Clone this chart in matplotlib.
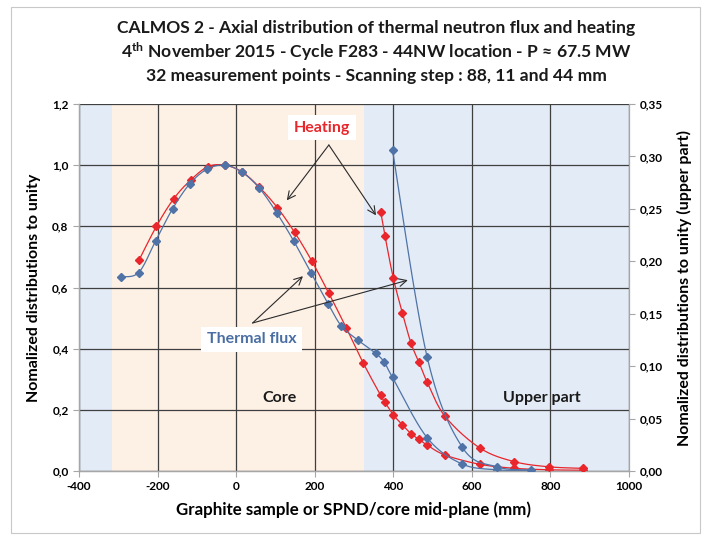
import numpy as np
import matplotlib
matplotlib.use("Agg")
import matplotlib.pyplot as plt
from matplotlib.patches import Rectangle
from matplotlib.ticker import FuncFormatter

plt.rcParams['font.family'] = ['Lato', 'DejaVu Sans']
plt.rcParams['mathtext.fontset'] = 'custom'
plt.rcParams['mathtext.rm'] = 'Lato'
plt.rcParams['mathtext.bf'] = 'Lato:bold'
plt.rcParams['mathtext.it'] = 'Lato:italic'

# ---------------- data ----------------
flux_x = [-293, -248, -205, -162, -118, -74, -29, 15, 59, 103, 147, 191, 235, 268,
          311, 355, 377, 398, 486, 575, 663, 750]
flux_y = [0.635, 0.649, 0.752, 0.857, 0.939, 0.987, 1.000, 0.977, 0.925, 0.845, 0.751,
          0.647, 0.545, 0.474, 0.427, 0.385, 0.356, 0.306, 0.109, 0.023, 0.004, 0.001]

heat_x = [-247, -203, -159, -116, -72, -29, 15, 59, 105, 149, 192, 236, 280, 324,
          368, 379, 400, 423, 445, 465, 486, 532, 620, 707, 796, 884]
heat_y = [0.690, 0.800, 0.890, 0.951, 0.995, 1.000, 0.978, 0.928, 0.861, 0.780, 0.688,
          0.581, 0.469, 0.352, 0.247, 0.224, 0.184, 0.151, 0.122, 0.104, 0.085, 0.052,
          0.022, 0.009, 0.004, 0.0025]

flux_upper_from = 398   # first point of flux plotted on the "upper part" axis
heat_upper_from = 368   # first point of heating plotted on the "upper part" axis

zones = [(-400, -315, 'upper'), (-315, 325, 'core'), (325, 1000, 'upper')]

title_lines = ["CALMOS 2 - Axial distribution of thermal neutron flux and heating",
               r"4$^{\mathbf{th}}$ November 2015 - Cycle F283 - 44NW location - P ≈ 67.5 MW",
               "32 measurement points - Scanning step : 88, 11 and 44 mm"]

x_ticks = [-400, -200, 0, 200, 400, 600, 800, 1000]
yl_ticks = [0.0, 0.2, 0.4, 0.6, 0.8, 1.0, 1.2]
yr_ticks = [0.00, 0.05, 0.10, 0.15, 0.20, 0.25, 0.30, 0.35]

# ---------------- style ----------------
RED = '#e8262b'
BLUE = '#4f73a6'
BLUE_TXT = '#4a6ea3'
ZONE_COL = {'upper': '#e3ebf6', 'core': '#fdf0e5'}
GRID = '#3f3f3f'
SPINE = '#a6a6a6'

W, H = 707, 535
fig = plt.figure(figsize=(W / 100, H / 100), dpi=100)
fig.patches.append(Rectangle((11 / W, 2 / H), 689 / W, 526 / H, transform=fig.transFigure,
                             fill=False, edgecolor='#c8c8c8', lw=0.8))

L, R, T, B = 79, 629, 104, 471
ax = fig.add_axes([L / W, 1 - B / H, (R - L) / W, (B - T) / H])
ax2 = ax.twinx()

ax.set_xlim(-400, 1000)
ax.set_ylim(0, 1.2)
ax2.set_ylim(0, 0.35)

for x0, x1, kind in zones:
    ax.axvspan(x0, x1, color=ZONE_COL[kind], zorder=0.1, lw=0)

ax.set_xticks(x_ticks)
ax.set_yticks(yl_ticks)
ax2.set_yticks(yr_ticks)
ax.grid(True, color=GRID, lw=0.9, zorder=0.5)
ax.set_axisbelow(True)

comma1 = FuncFormatter(lambda v, p: f"{v:.1f}".replace('.', ','))
comma2 = FuncFormatter(lambda v, p: f"{v:.2f}".replace('.', ','))
ax.yaxis.set_major_formatter(comma1)
ax2.yaxis.set_major_formatter(comma2)
ax.xaxis.set_major_formatter(FuncFormatter(lambda v, p: f"{v:.0f}"))

for a in (ax, ax2):
    for s in a.spines.values():
        s.set_color(SPINE)
        s.set_linewidth(0.9)
    a.spines['top'].set_visible(False)
    a.tick_params(colors=SPINE, length=4, width=0.8, labelsize=8.5, labelcolor='black')
ax.spines['right'].set_visible(False)
for lab in ax.get_xticklabels() + ax.get_yticklabels() + ax2.get_yticklabels():
    lab.set_fontweight('bold')
ax.tick_params(axis='x', pad=3)


def smooth(xs, ys, sx, sy, n=24):
    P = np.column_stack([np.asarray(xs, float) * sx, np.asarray(ys, float) * sy])
    out = [P[0]]
    t = np.linspace(0, 1, n)[1:, None]
    for i in range(len(P) - 1):
        p0 = P[i - 1] if i > 0 else P[i]
        p1, p2 = P[i], P[i + 1]
        p3 = P[i + 2] if i + 2 < len(P) else P[i + 1]
        c1 = p1 + (p2 - p0) / 6
        c2 = p2 - (p3 - p1) / 6
        Bz = (1 - t) ** 3 * p1 + 3 * (1 - t) ** 2 * t * c1 + 3 * (1 - t) * t ** 2 * c2 + t ** 3 * p2
        out.extend(Bz)
    out = np.array(out)
    return out[:, 0] / sx, out[:, 1] / sy


sx = (R - L) / 1400.0
syl = (B - T) / 1.2
syr = (B - T) / 0.35


def draw(a, xs, ys, sy, color, z):
    lx, ly = smooth(xs, ys, sx, sy)
    a.plot(lx, ly, color=color, lw=0.9, zorder=z)
    a.plot(xs, ys, ls='none', marker='D', ms=4.0, color=color, mec=color, zorder=z + 0.1)


# lower (full) series on left axis
draw(ax, heat_x, heat_y, syl, RED, 3)
draw(ax, flux_x, flux_y, syl, BLUE, 4)

# upper part series on right axis
hx = [x for x in heat_x if x >= heat_upper_from]
hy = [y for x, y in zip(heat_x, heat_y) if x >= heat_upper_from]
fx = [x for x in flux_x if x >= flux_upper_from]
fy = [y for x, y in zip(flux_x, flux_y) if x >= flux_upper_from]
draw(ax2, hx, hy, syr, RED, 3)
draw(ax2, fx, fy, syr, BLUE, 4)

# annotations (drawn on ax2 using left-axis data coordinates)
arrow = dict(arrowstyle='->', color='#2b2b2b', lw=0.8, shrinkA=0, shrinkB=0,
             mutation_scale=14)
for end in [(129, 0.885), (356, 0.836)]:
    ax2.annotate('', xy=end, xycoords=ax.transData, xytext=(236, 1.066),
                 textcoords=ax.transData, arrowprops=arrow, zorder=6)
for end in [(170, 0.637), (437, 0.624)]:
    ax2.annotate('', xy=end, xycoords=ax.transData, xytext=(42, 0.484),
                 textcoords=ax.transData, arrowprops=arrow, zorder=6)

box = dict(boxstyle='square,pad=0.35', fc='white', ec='none')
ax2.text(219, 1.122, 'Heating', transform=ax.transData, color=RED, fontsize=11.5,
         fontweight='bold', ha='center', va='center', bbox=box, zorder=7)
ax2.text(40, 0.431, 'Thermal flux', transform=ax.transData, color=BLUE_TXT, fontsize=11.5,
         fontweight='bold', ha='center', va='center', bbox=box, zorder=7)
ax2.text(110, 0.24, 'Core', transform=ax.transData, color='#1a1a1a', fontsize=11.5,
         fontweight='bold', ha='center', va='center', zorder=7)
ax2.text(778, 0.239, 'Upper part', transform=ax.transData, color='#1a1a1a', fontsize=11.5,
         fontweight='bold', ha='center', va='center', zorder=7)

# axis labels
ax.set_xlabel('Graphite sample or SPND/core mid-plane (mm)', fontsize=12.2,
              fontweight='bold', labelpad=7)
ax.set_ylabel('Nomalized distributions to unity', fontsize=11.5, fontweight='bold',
              labelpad=8)
ax2.set_ylabel('Nomalized distributions to unity (upper part)', fontsize=11.5,
               fontweight='bold', labelpad=10)

# title
for i, (line, yy) in enumerate(zip(title_lines, [28, 52, 76])):
    fig.text(376 / W, 1 - yy / H, line, ha='center', va='center', fontsize=12.6,
             fontweight='bold', color='#1a1a1a')

fig.savefig('out.png', dpi=100)
